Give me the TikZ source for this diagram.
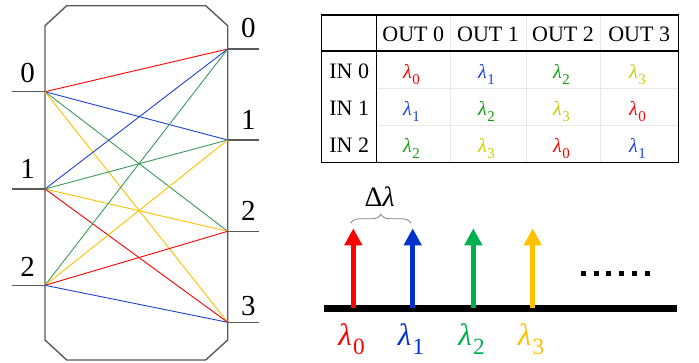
\documentclass[tikz,border=0pt]{standalone}
\usepackage{fontspec}
\setmainfont{Liberation Serif}
\usetikzlibrary{arrows.meta,decorations.pathreplacing}
\definecolor{lred}{HTML}{FF0000}
\definecolor{lblue}{HTML}{1F3FD8}
\definecolor{lgreen}{HTML}{3C9A5C}
\definecolor{lyellow}{HTML}{FFC000}
\definecolor{tred}{HTML}{FF0000}
\definecolor{tblue}{HTML}{1A44E0}
\definecolor{tgreen}{HTML}{10A010}
\definecolor{tyellow}{HTML}{CCCC00}
\definecolor{ared}{HTML}{FF0000}
\definecolor{ablue}{HTML}{0033CC}
\definecolor{agreen}{HTML}{00B050}
\definecolor{ayellow}{HTML}{FFC000}
\definecolor{framegray}{HTML}{5A5A5A}
\definecolor{cellgray}{HTML}{E8E8E8}
\newcommand\lamsub[1]{\textit{λ}\kern0.04em\raisebox{-0.3em}{\scalebox{0.75}{#1}}}
\begin{document}
\begin{tikzpicture}[x=1pt,y=-1pt,
  portlbl/.style={font=\fontsize{29}{31}\selectfont, anchor=base, inner sep=0pt},
  portline/.style={draw=framegray, line width=1.4pt},
  route/.style={line width=0.9pt},
  hdr/.style={font=\fontsize{22}{24}\selectfont, anchor=base, inner sep=0pt},
  tl/.style={font=\fontsize{20}{22}\selectfont, anchor=base, inner sep=0pt},
  bl/.style={font=\fontsize{31}{33}\selectfont, anchor=base, inner sep=0pt},
  spike/.style={line width=5pt, -{Triangle[width=17pt,length=17pt]}}
]
\useasboundingbox (0,0) rectangle (699,362);

% ---------- left panel ----------
\draw[framegray, line width=1.4pt, line join=miter]
  (66.7,5.7) -- (205.7,5.7) -- (227.7,25.7) -- (227.7,340) -- (205.7,360)
  -- (66.7,360) -- (45,340) -- (45,25.7) -- cycle;

\coordinate (i0) at (45,91.7);
\coordinate (i1) at (45,189);
\coordinate (i2) at (45,285.3);
\coordinate (o0) at (227.7,49);
\coordinate (o1) at (227.7,140);
\coordinate (o2) at (227.7,231.3);
\coordinate (o3) at (227.7,322.3);
\coordinate (i0e) at (12.3,91.7);
\coordinate (i1e) at (12.3,189);
\coordinate (i2e) at (12.3,285.3);
\coordinate (o0e) at (259.3,49);
\coordinate (o1e) at (259.3,140);
\coordinate (o2e) at (259.3,231.3);
\coordinate (o3e) at (259.3,322.3);

\foreach \a in {0,1,2} \draw[portline] (i\a e) -- (i\a);
\foreach \a in {0,1,2,3} \draw[portline] (o\a) -- (o\a e);

\node[portlbl] (li0) at (27.7,82.7) {0};
\node[portlbl] (li1) at (27.7,178.3) {1};
\node[portlbl] (li2) at (27.7,276) {2};
\node[portlbl] (lo0) at (248.3,37.7) {0};
\node[portlbl] (lo1) at (248.3,129.3) {1};
\node[portlbl] (lo2) at (248.3,220.7) {2};
\node[portlbl] (lo3) at (248.3,315) {3};

\draw[route, lred]    (i0) -- (o0);
\draw[route, lblue]   (i0) -- (o1);
\draw[route, lgreen]  (i0) -- (o2);
\draw[route, lyellow] (i0) -- (o3);
\draw[route, lblue]   (i1) -- (o0);
\draw[route, lgreen]  (i1) -- (o1);
\draw[route, lyellow] (i1) -- (o2);
\draw[route, lred]    (i1) -- (o3);
\draw[route, lgreen]  (i2) -- (o0);
\draw[route, lyellow] (i2) -- (o1);
\draw[route, lred]    (i2) -- (o2);
\draw[route, lblue]   (i2) -- (o3);

% ---------- table ----------
\foreach \y in {88.3,125.7} \draw[cellgray, line width=1pt] (376.7,\y) -- (678.3,\y);
\foreach \x in {450,526,600} \draw[cellgray, line width=1pt] (\x,15) -- (\x,162.3);
\draw[line width=1.1pt] (321.7,51) -- (678.3,51);
\draw[line width=1.1pt] (376.7,15) -- (376.7,162.3);
\draw[line width=1.3pt] (321.7,15) rectangle (678.3,162.3);

\node[hdr] (h0) at (413.3,41.6) {OUT 0};
\node[hdr] (h1) at (488,41.6) {OUT 1};
\node[hdr] (h2) at (563,41.6) {OUT 2};
\node[hdr] (h3) at (639.2,41.6) {OUT 3};
\node[hdr] (r0) at (349.2,78.3) {IN 0};
\node[hdr] (r1) at (349.2,115.6) {IN 1};
\node[hdr] (r2) at (349.2,152.6) {IN 2};

\node[tl, tred]    (c00) at (411.5,78.3) {\lamsub{0}};
\node[tl, tblue]   (c01) at (486.5,78.3) {\lamsub{1}};
\node[tl, tgreen]  (c02) at (561.5,78.3) {\lamsub{2}};
\node[tl, tyellow] (c03) at (637.5,78.3) {\lamsub{3}};
\node[tl, tblue]   (c10) at (411.5,115.6) {\lamsub{1}};
\node[tl, tgreen]  (c11) at (486.5,115.6) {\lamsub{2}};
\node[tl, tyellow] (c12) at (561.5,115.6) {\lamsub{3}};
\node[tl, tred]    (c13) at (637.5,115.6) {\lamsub{0}};
\node[tl, tgreen]  (c20) at (411.5,152.6) {\lamsub{2}};
\node[tl, tyellow] (c21) at (486.5,152.6) {\lamsub{3}};
\node[tl, tred]    (c22) at (561.5,152.6) {\lamsub{0}};
\node[tl, tblue]   (c23) at (637.5,152.6) {\lamsub{1}};

% ---------- spectrum ----------
\coordinate (axl) at (324,308.3);
\coordinate (axr) at (676.7,308.3);
\draw[line width=6.7pt] (axl) -- (axr);

\coordinate (b0) at (353.3,308.3); \coordinate (t0) at (353.3,228.3);
\coordinate (b1) at (412.7,308.3); \coordinate (t1) at (412.7,228.3);
\coordinate (b2) at (473.3,308.3); \coordinate (t2) at (473.3,228.3);
\coordinate (b3) at (532.7,308.3); \coordinate (t3) at (532.7,228.3);
\draw[spike, ared]    (b0) -- (t0);
\draw[spike, ablue]   (b1) -- (t1);
\draw[spike, agreen]  (b2) -- (t2);
\draw[spike, ayellow] (b3) -- (t3);

\node[bl, ared]    (w0) at (351.5,345) {\lamsub{0}};
\node[bl, ablue]   (w1) at (411,345) {\lamsub{1}};
\node[bl, agreen]  (w2) at (471.5,345) {\lamsub{2}};
\node[bl, ayellow] (w3) at (531,345) {\lamsub{3}};

\coordinate (brl) at (350.7,223.3);
\coordinate (brr) at (411,223.3);
\draw[gray, line width=0.8pt, decorate, decoration={brace, amplitude=9pt}] (brl) -- (brr);
\node[font=\fontsize{28}{30}\selectfont, anchor=base, inner sep=0pt] (dl) at (379.7,206) {Δ\textit{λ}};

\foreach \i in {0,...,5}
  \fill ({583.3+12.8*\i-2.5},270.8) rectangle ++(5,5);
\end{tikzpicture}
\end{document}
